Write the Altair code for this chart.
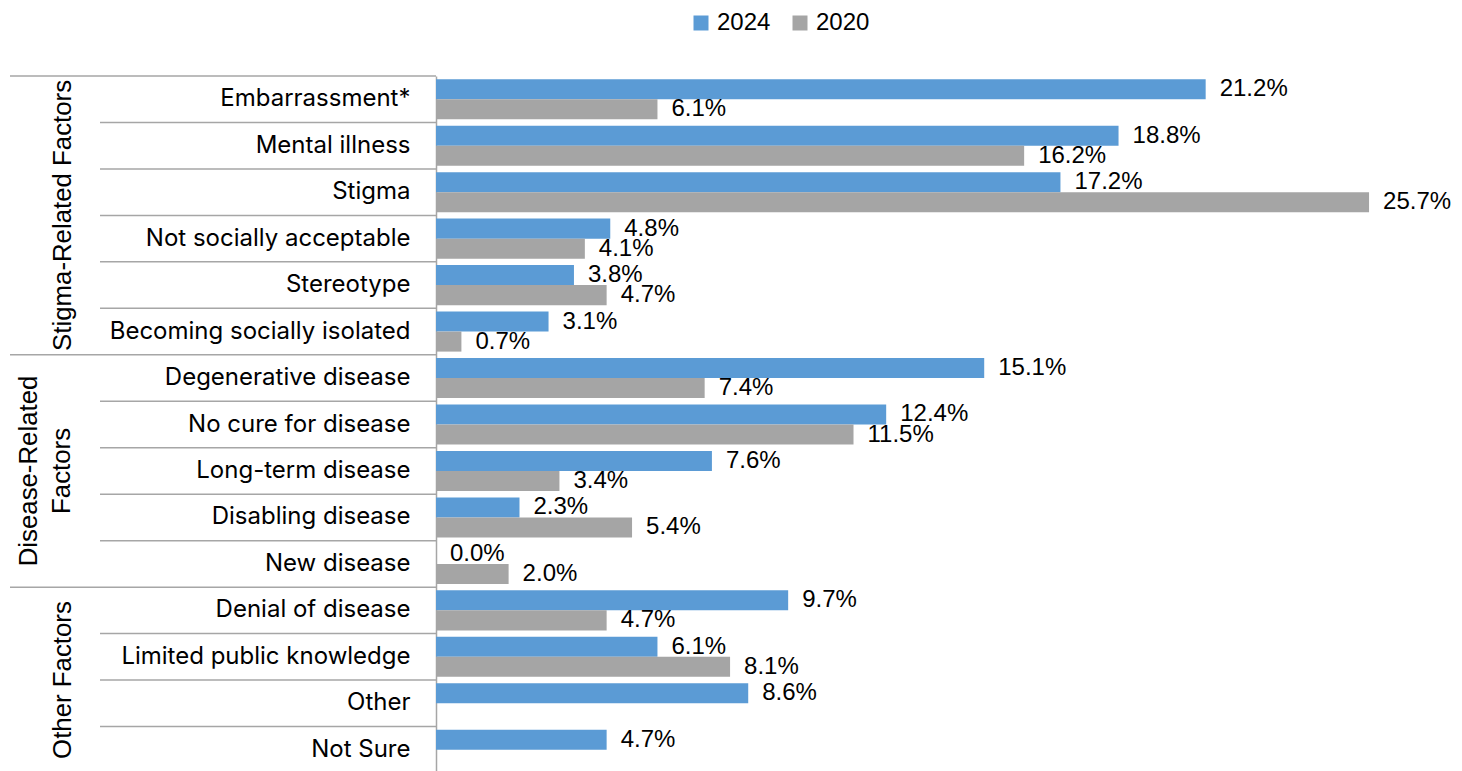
import altair as alt
import pandas as pd

categories = [
    "Embarrassment*", "Mental illness", "Stigma", "Not socially acceptable",
    "Stereotype", "Becoming socially isolated",
    "Degenerative disease", "No cure for disease", "Long-term disease",
    "Disabling disease", "New disease",
    "Denial of disease", "Limited public knowledge", "Other", "Not Sure",
]
values_2024 = [21.2, 18.8, 17.2, 4.8, 3.8, 3.1, 15.1, 12.4, 7.6, 2.3, 0.0, 9.7, 6.1, 8.6, 4.7]
values_2020 = [6.1, 16.2, 25.7, 4.1, 4.7, 0.7, 7.4, 11.5, 3.4, 5.4, 2.0, 4.7, 8.1, None, None]
years = ["2024", "2020"]
colors = ["#5B9BD5", "#A5A5A5"]

group_names = ["Stigma-Related Factors", "Disease-Related\nFactors", "Other Factors"]
group_first = ["Embarrassment*", "Degenerative disease", "Denial of disease"]
# category at the vertical centre of each group, and where in its band the centre falls
group_anchor = ["Not socially acceptable", "Long-term disease", "Other"]
group_band = [0.0, 0.5, 0.0]

LABEL_FONT = "Inter"
LABEL_SIZE = 24
VALUE_FONT = "Liberation Sans"
GROUP_SIZE = 25.8
LINE = "#a6a6a6"

rows = []
for c, a, b in zip(categories, values_2024, values_2020):
    rows.append({"category": c, "year": "2024", "value": a})
    rows.append({"category": c, "year": "2020", "value": b})
df = pd.DataFrame(rows)

sep_df = pd.DataFrame({"category": categories,
                       "start": [c in group_first for c in categories]})
grp_df = pd.DataFrame({"category": group_anchor, "name": group_names, "bp": group_band})

y_axis = alt.Axis(title=None, ticks=False, domain=True, domainColor=LINE, domainWidth=1.5,
                  labelFont=LABEL_FONT, labelFontSize=LABEL_SIZE, labelColor="black",
                  labelPadding=26, labelLimit=400, grid=False)
y_scale = alt.Scale(paddingInner=0, paddingOuter=0)

def Y(bp=None):
    if bp is None:
        return alt.Y("category:N", sort=categories, scale=y_scale, axis=y_axis)
    return alt.Y("category:N", sort=categories, scale=y_scale, axis=y_axis, bandPosition=bp)

x_enc = alt.X("value:Q", scale=alt.Scale(domain=[0, 28.04], nice=False, zero=True), axis=None)
yoff = alt.YOffset("year:N", sort=years, scale=alt.Scale(paddingInner=0, paddingOuter=0.16))

base = alt.Chart(df).transform_filter("isValid(datum.value)")

bars = base.mark_bar().encode(
    x=x_enc, y=Y(), yOffset=yoff,
    color=alt.Color("year:N", sort=years,
                    scale=alt.Scale(domain=years, range=colors),
                    legend=alt.Legend(title=None, orient="none", direction="horizontal",
                                      legendX=253, legendY=-65,
                                      symbolType="square", symbolSize=225,
                                      symbolStrokeWidth=0, labelFont=VALUE_FONT,
                                      labelFontSize=24, labelColor="black",
                                      columnPadding=17, labelOffset=4)),
)

labels = base.transform_calculate(
    label="format(datum.value, '.1f') + '%'"
).mark_text(align="left", baseline="middle", dx=14, font=VALUE_FONT,
            fontSize=24, color="black").encode(
    x=x_enc, y=Y(), yOffset=yoff, text="label:N",
)

short_rules = alt.Chart(sep_df).transform_filter("!datum.start").mark_rule(
    color=LINE, strokeWidth=1.5).encode(
    y=Y(0), x=alt.value(-336), x2=alt.value(0))
long_rules = alt.Chart(sep_df).transform_filter("datum.start").mark_rule(
    color=LINE, strokeWidth=1.5).encode(
    y=Y(0), x=alt.value(-426), x2=alt.value(0))

grp0 = alt.Chart(grp_df).transform_filter("datum.bp == 0").mark_text(
    angle=270, align="center", baseline="alphabetic", font=VALUE_FONT, fontSize=GROUP_SIZE,
    color="black", lineBreak="\n", lineHeight=33).encode(
    y=Y(0), x=alt.value(-365), text="name:N")
grp5 = alt.Chart(grp_df).transform_filter("datum.bp == 0.5").mark_text(
    angle=270, align="center", baseline="alphabetic", font=VALUE_FONT, fontSize=GROUP_SIZE,
    color="black", lineBreak="\n", lineHeight=33).encode(
    y=Y(0.5), x=alt.value(-399), text="name:N")

chart = alt.layer(short_rules, long_rules, bars, labels, grp0, grp5).properties(
    width=1018, height=697,
    autosize=alt.AutoSizeParams(type="none"),
    padding={"left": 428, "top": 68, "right": 0, "bottom": 0},
).configure(background="white").configure_view(stroke=None)

chart.save("out.html", embed_options={"renderer": "svg", "actions": False})
